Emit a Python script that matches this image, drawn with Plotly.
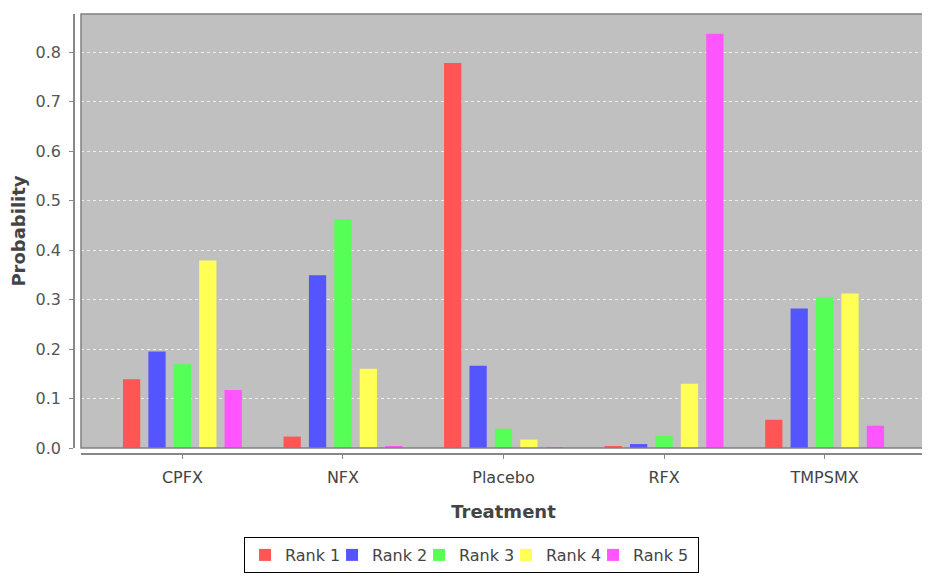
import plotly.graph_objects as go

treatments = ["CPFX", "NFX", "Placebo", "RFX", "TMPSMX"]
series_names = ["Rank 1", "Rank 2", "Rank 3", "Rank 4", "Rank 5"]
rank1 = [0.139, 0.023, 0.778, 0.004, 0.057]
rank2 = [0.195, 0.349, 0.166, 0.008, 0.282]
rank3 = [0.169, 0.462, 0.039, 0.025, 0.305]
rank4 = [0.379, 0.160, 0.017, 0.130, 0.312]
rank5 = [0.117, 0.003, 0.002, 0.837, 0.045]
colors = ["#FF5555", "#5555FF", "#55FF55", "#FFFF55", "#FF55FF"]

series = [rank1, rank2, rank3, rank4, rank5]

fig = go.Figure()
for i, (name, vals, col) in enumerate(zip(series_names, series, colors)):
    fig.add_trace(go.Bar(x=treatments, y=vals, name=name,
                         legendwidth=(60 if i == len(series) - 1 else 42),
                         marker=dict(color=col, line=dict(width=0))))

FONT = "DejaVu Sans"
fig.update_layout(
    width=922, height=569,
    margin=dict(l=66, r=4, t=6, b=123, autoexpand=False),
    paper_bgcolor="white",
    plot_bgcolor="#C0C0C0",
    barmode="group",
    bargap=0.209,
    bargroupgap=0.32,
    font=dict(family=FONT, size=15, color="#444444"),
    showlegend=True,
    legend=dict(orientation="h", xref="container", yref="container",
                x=0.2560, xanchor="left", y=0.0703, yanchor="top",
                bordercolor="black", borderwidth=1,
                font=dict(family=FONT, size=16, color="#444444"),
                itemwidth=30, tracegroupgap=0),
    xaxis=dict(domain=[0.00822, 1], anchor="free", position=0, automargin=False,
               range=[-0.6316, 4.6316], type="category",
               showline=True, linecolor="#888888", linewidth=1.5,
               ticks="outside", ticklen=4, tickcolor="#888888",
               tickfont=dict(family=FONT, size=16, color="#444444"),
               ticklabelstandoff=5,
               title=dict(text="<b>Treatment</b>", standoff=18,
                          font=dict(family=FONT, size=18, color="#444444")),
               showgrid=False, zeroline=False),
    yaxis=dict(domain=[0.01364, 1], anchor="free", position=0, automargin=False,
               range=[0, 0.8768], dtick=0.1, tick0=0, tickformat=".1f",
               showline=True, linecolor="#888888", linewidth=1.5,
               ticks="outside", ticklen=4, tickcolor="#888888",
               tickfont=dict(family=FONT, size=16, color="#555555"),
               ticklabelstandoff=5,
               title=dict(text="<b>Probability</b>", standoff=10,
                          font=dict(family=FONT, size=18, color="#444444")),
               showgrid=True, gridcolor="#EEEEEE", gridwidth=1,
               griddash="3px,3px", zeroline=False),
    shapes=[dict(type="rect", xref="x domain", yref="y domain",
                 x0=0, x1=1, y0=0, y1=1,
                 line=dict(color="#808080", width=1.5), layer="above")],
)

fig.write_html("out.html")
